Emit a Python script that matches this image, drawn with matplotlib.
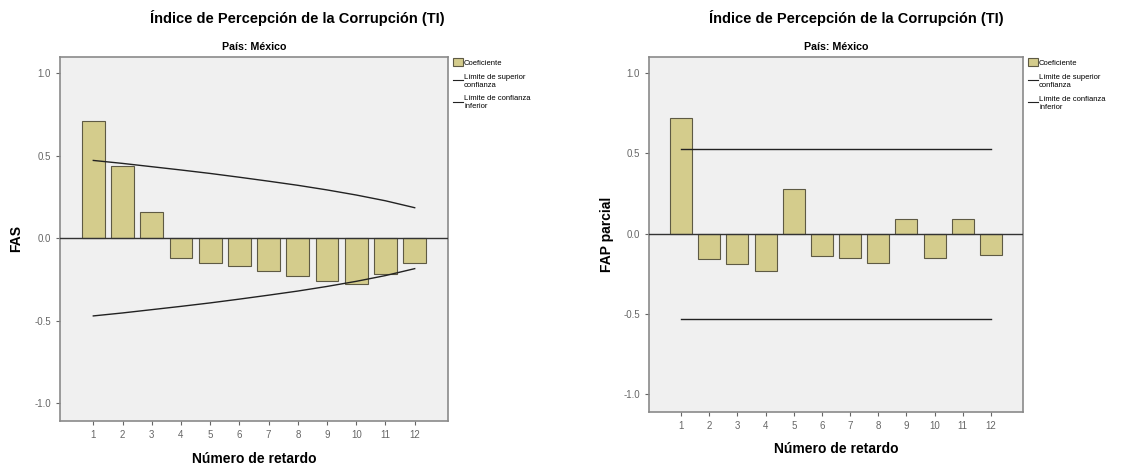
import matplotlib
matplotlib.use("Agg")
import matplotlib.pyplot as plt
from matplotlib.patches import Patch
from matplotlib.lines import Line2D

plt.rcParams['font.family'] = ['Liberation Sans', 'DejaVu Sans']

# datos
lags = [1, 2, 3, 4, 5, 6, 7, 8, 9, 10, 11, 12]
fas = [0.71, 0.44, 0.16, -0.12, -0.15, -0.17, -0.20, -0.23, -0.26, -0.28, -0.22, -0.15]
fas_sup = [0.472, 0.454, 0.434, 0.414, 0.393, 0.370, 0.346, 0.321, 0.293, 0.262, 0.227, 0.185]
fas_inf = [-0.472, -0.454, -0.434, -0.414, -0.393, -0.370, -0.346, -0.321, -0.293, -0.262, -0.227, -0.185]
fap = [0.72, -0.16, -0.19, -0.23, 0.28, -0.14, -0.15, -0.18, 0.09, -0.15, 0.09, -0.13]
fap_sup = [0.53] * 12
fap_inf = [-0.53] * 12
yticks = [-1.0, -0.5, 0.0, 0.5, 1.0]
titulo = "Índice de Percepción de la Corrupción (TI)"
subtitulo = "País: México"
leyenda = ["Coeficiente", "Límite de superior\nconfianza", "Límite de confianza\ninferior"]

bar_color = '#d4cc8c'
bar_edge = '#5e5a44'
bg = '#f0f0f0'

fig = plt.figure(figsize=(11.38, 4.68), dpi=100, facecolor='white')


def panel(rect, vals, sup, inf, ylabel, xt):
    ax = fig.add_axes(rect)
    ax.set_facecolor(bg)
    ax.bar(lags, vals, width=0.78, color=bar_color, edgecolor=bar_edge, linewidth=0.8, zorder=2)
    ax.axhline(0, color='#333333', lw=1.0, zorder=3)
    ax.plot(lags, sup, color='#222222', lw=1.0, zorder=4)
    ax.plot(lags, inf, color='#222222', lw=1.0, zorder=4)
    ax.set_xlim(-0.14, 13.14)
    ax.set_ylim(-1.11, 1.10)
    ax.set_yticks(yticks)
    ax.set_yticklabels(["%.1f" % v for v in yticks])
    ax.set_xticks(lags)
    ax.tick_params(axis='both', labelsize=7, colors='#666666', length=3, width=0.8)
    for s in ax.spines.values():
        s.set_color('#8a8a8a')
        s.set_linewidth(1.2)
    ax.set_ylabel(ylabel, fontsize=10, fontweight='bold')
    ax.yaxis.set_label_coords(-0.094, 0.5)
    ax.set_xlabel("Número de retardo", fontsize=10, fontweight='bold')
    ax.xaxis.set_label_coords(0.5, -0.085)
    ax.set_title(subtitulo, fontsize=7.7, fontweight='bold', pad=5)
    fig.text(xt, 1 - 18 / 468, titulo, ha='center', va='center', fontsize=10.5, fontweight='bold')
    handles = [Patch(facecolor=bar_color, edgecolor=bar_edge, lw=0.8),
               Line2D([], [], color='#222222', lw=0.8),
               Line2D([], [], color='#222222', lw=0.8)]
    ax.legend(handles, leyenda, loc='upper left', bbox_to_anchor=(1.0, 1.01),
              frameon=False, fontsize=5.5, handlelength=1.3, handleheight=1.3,
              handletextpad=0.2, labelspacing=0.9, borderaxespad=0.2)
    return ax


panel([60 / 1138, 1 - 421 / 468, 388 / 1138, 364 / 468], fas, fas_sup, fas_inf, "FAS", 297 / 1138)
panel([649 / 1138, 1 - 412 / 468, 374 / 1138, 355 / 468], fap, fap_sup, fap_inf, "FAP parcial", 856 / 1138)

fig.savefig("out.png", dpi=100, facecolor='white')
